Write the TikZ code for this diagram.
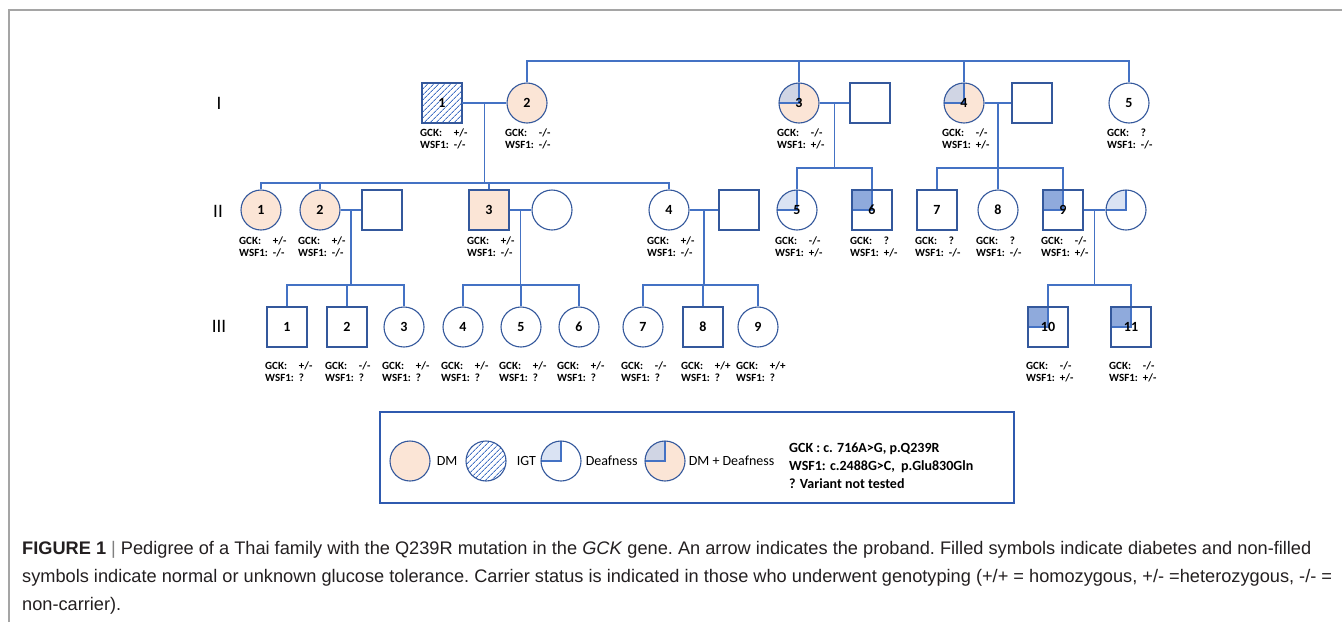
\documentclass[tikz,border=0pt]{standalone}
\usepackage{fontspec}
\setmainfont{Carlito}
\newfontfamily\capfont{Liberation Sans}
\usetikzlibrary{positioning, calc, patterns.meta}
\definecolor{linkblue}{RGB}{68,114,196}
\definecolor{edgeblue}{RGB}{52,88,156}
\definecolor{peach}{RGB}{251,229,214}
\definecolor{deafblue}{RGB}{218,227,243}
\definecolor{mixgray}{RGB}{208,213,228}
\definecolor{quadblue}{RGB}{143,170,220}
\definecolor{framegray}{RGB}{165,165,165}
\definecolor{boxblue}{RGB}{47,90,175}
\definecolor{captext}{RGB}{35,31,32}

\newcommand{\geno}[2]{\begin{tabular}{@{}l@{\hspace{5pt}}l@{}}GCK: & #1\\WSF1: & #2\end{tabular}}

\begin{document}
\begin{tikzpicture}[
      x=1pt, y=-1pt,
      male/.style={rectangle, draw=edgeblue, line width=1.1pt, fill=white,
                   minimum size=40pt, inner sep=0pt,
                   font=\fontsize{14}{15}\selectfont\bfseries},
      female/.style={male, circle},
      dm/.style={fill=peach},
      igt/.style={pattern={Lines[angle=45, distance=4pt, line width=0.9pt]},
                  pattern color=linkblue},
      quad/.style={path picture={
          \fill[#1] (path picture bounding box.center) rectangle (path picture bounding box.north west);
          \draw[link] (path picture bounding box.north) -- (path picture bounding box.center)
                      -- (path picture bounding box.west);}},
      deaf/.style={quad=deafblue},
      dmdeaf/.style={fill=peach, quad=mixgray},
      sqdeaf/.style={quad=quadblue},
      link/.style={draw=linkblue, line width=1.3pt},
      geno/.style={inner sep=0pt, font=\fontsize{11}{12}\selectfont\bfseries},
      gen/.style={font=\fontsize{19}{20}\selectfont},
      legtext/.style={inner sep=0pt, font=\fontsize{14}{16}\selectfont}
    ]
    \useasboundingbox (0,0) rectangle (1342,622);
    \draw[framegray, line width=1.5pt] (9,622) -- (9,10) -- (1342,10);

    % generation labels
    \node[gen] (gI) at (219,103) {I};
    \node[gen] (gII) at (218,211) {II};
    \node[gen] (gIII) at (219,326) {III};

    % generation I
    \node[male, igt] (i1) at (442,103) {1};
    \node[female, dm] (i2) at (527,103) {2};
    \node[female, dmdeaf] (i3) at (799,103) {3};
    \node[male] (i3s) at (870,103) {};
    \node[female, dmdeaf] (i4) at (964,103) {4};
    \node[male] (i4s) at (1032,103) {};
    \node[female] (i5) at (1129,103) {5};

    % generation II
    \node[female, dm] (ii1) at (261,210) {1};
    \node[female, dm] (ii2) at (320,210) {2};
    \node[male] (ii2s) at (382,210) {};
    \node[male, dm] (ii3) at (489,210) {3};
    \node[female] (ii3s) at (552,210) {};
    \node[female] (ii4) at (669,210) {4};
    \node[male] (ii4s) at (739,210) {};
    \node[female, deaf] (ii5) at (797,210) {5};
    \node[male, sqdeaf] (ii6) at (872,210) {6};
    \node[male] (ii7) at (937,210) {7};
    \node[female] (ii8) at (998,210) {8};
    \node[male, sqdeaf] (ii9) at (1063,210) {9};
    \node[female, deaf] (ii9s) at (1126,210) {};

    % generation III
    \node[male] (iii1) at (287,327) {1};
    \node[male] (iii2) at (347,327) {2};
    \node[female] (iii3) at (404,327) {3};
    \node[female] (iii4) at (463,327) {4};
    \node[female] (iii5) at (521,327) {5};
    \node[female] (iii6) at (579,327) {6};
    \node[female] (iii7) at (643,327) {7};
    \node[male] (iii8) at (703,327) {8};
    \node[female] (iii9) at (758,327) {9};
    \node[male, sqdeaf] (iii10) at (1048,327) {10};
    \node[male, sqdeaf] (iii11) at (1131,327) {11};

    % sibship levels
    \coordinate (sibI) at (0,61);
    \coordinate (sibII) at (0,183);
    \coordinate (sibR) at (0,168);
    \coordinate (sibIII) at (0,285);

    % connectors
    \draw[link] (i2.north) -- (i2.north |- sibI) -- (i5.north |- sibI) -- (i5.north);
    \foreach \c in {i3, i4}
      \draw[link] (\c.north) -- (\c.north |- sibI);

    \draw[link] (i1.east) -- (i2.west);
    \coordinate (m12) at ($(i1.east)!0.5!(i2.west)$);
    \draw[link] (m12) -- (m12 |- sibII);
    \draw[link] (ii1.north) -- (ii1.north |- sibII) -- (ii4.north |- sibII) -- (ii4.north);
    \foreach \c in {ii2, ii3}
      \draw[link] (\c.north) -- (\c.north |- sibII);

    \draw[link] (i3.east) -- (i3s.west);
    \coordinate (m3) at ($(i3.east)!0.5!(i3s.west)$);
    \draw[link] (m3) -- (m3 |- sibR);
    \draw[link] (ii5.north) -- (ii5.north |- sibR) -- (ii6.north |- sibR) -- (ii6.north);

    \draw[link] (i4.east) -- (i4s.west);
    \coordinate (m4) at ($(i4.east)!0.5!(i4s.west)$);
    \draw[link] (m4) -- (m4 |- sibR);
    \draw[link] (ii7.north) -- (ii7.north |- sibR) -- (ii9.north |- sibR) -- (ii9.north);
    \draw[link] (ii8.north) -- (ii8.north |- sibR);

    \draw[link] (ii2.east) -- (ii2s.west);
    \coordinate (m22) at ($(ii2.east)!0.5!(ii2s.west)$);
    \draw[link] (m22) -- (m22 |- sibIII);
    \draw[link] (iii1.north) -- (iii1.north |- sibIII) -- (iii3.north |- sibIII) -- (iii3.north);
    \draw[link] (iii2.north) -- (iii2.north |- sibIII);

    \draw[link] (ii3.east) -- (ii3s.west);
    \coordinate (m23) at ($(ii3.east)!0.5!(ii3s.west)$);
    \draw[link] (m23) -- (m23 |- sibIII);
    \draw[link] (iii4.north) -- (iii4.north |- sibIII) -- (iii6.north |- sibIII) -- (iii6.north);
    \draw[link] (iii5.north) -- (iii5.north |- sibIII);

    \draw[link] (ii4.east) -- (ii4s.west);
    \coordinate (m24) at ($(ii4.east)!0.5!(ii4s.west)$);
    \draw[link] (m24) -- (m24 |- sibIII);
    \draw[link] (iii7.north) -- (iii7.north |- sibIII) -- (iii9.north |- sibIII) -- (iii9.north);
    \draw[link] (iii8.north) -- (iii8.north |- sibIII);

    \draw[link] (ii9.east) -- (ii9s.west);
    \coordinate (m29) at ($(ii9.east)!0.5!(ii9s.west)$);
    \draw[link] (m29) -- (m29 |- sibIII);
    \draw[link] (iii10.north) -- (iii10.north |- sibIII) -- (iii11.north |- sibIII) -- (iii11.north);

    % genotypes
    \node[geno, below right=4pt and -22pt of i1.south] {\geno{+/-}{-/-}};
    \node[geno, below right=4pt and -22pt of i2.south] {\geno{-/-}{-/-}};
    \node[geno, below right=4pt and -22pt of i3.south] {\geno{-/-}{+/-}};
    \node[geno, below right=4pt and -22pt of i4.south] {\geno{-/-}{+/-}};
    \node[geno, below right=4pt and -22pt of i5.south] {\geno{?}{-/-}};
    \node[geno, below right=5pt and -22pt of ii1.south] {\geno{+/-}{-/-}};
    \node[geno, below right=5pt and -22pt of ii2.south] {\geno{+/-}{-/-}};
    \node[geno, below right=5pt and -22pt of ii3.south] {\geno{+/-}{-/-}};
    \node[geno, below right=5pt and -22pt of ii4.south] {\geno{+/-}{-/-}};
    \node[geno, below right=5pt and -22pt of ii5.south] {\geno{-/-}{+/-}};
    \node[geno, below right=5pt and -22pt of ii6.south] {\geno{?}{+/-}};
    \node[geno, below right=5pt and -22pt of ii7.south] {\geno{?}{-/-}};
    \node[geno, below right=5pt and -22pt of ii8.south] {\geno{?}{-/-}};
    \node[geno, below right=5pt and -22pt of ii9.south] {\geno{-/-}{+/-}};
    \node[geno, below right=13pt and -22pt of iii1.south] {\geno{+/-}{?}};
    \node[geno, below right=13pt and -22pt of iii2.south] {\geno{-/-}{?}};
    \node[geno, below right=13pt and -22pt of iii3.south] {\geno{+/-}{?}};
    \node[geno, below right=13pt and -22pt of iii4.south] {\geno{+/-}{?}};
    \node[geno, below right=13pt and -22pt of iii5.south] {\geno{+/-}{?}};
    \node[geno, below right=13pt and -22pt of iii6.south] {\geno{+/-}{?}};
    \node[geno, below right=13pt and -22pt of iii7.south] {\geno{-/-}{?}};
    \node[geno, below right=13pt and -22pt of iii8.south] {\geno{+/+}{?}};
    \node[geno, below right=13pt and -22pt of iii9.south] {\geno{+/+}{?}};
    \node[geno, below right=13pt and -22pt of iii10.south] {\geno{-/-}{+/-}};
    \node[geno, below right=13pt and -22pt of iii11.south] {\geno{-/-}{+/-}};

    % legend
    \draw[boxblue, line width=2.5pt] (380,412) rectangle (1014,503);
    \node[female, dm] (lgdm) at (410,461) {};
    \node[legtext, right=6pt of lgdm] (lgdmtxt) {DM};
    \node[female, igt] (lgigt) at (486,461) {};
    \node[legtext, right=10pt of lgigt] (lgigttxt) {IGT};
    \node[female, deaf] (lgdeaf) at (561,461) {};
    \node[legtext, right=4pt of lgdeaf] (lgdeaftxt) {Deafness};
    \node[female, dmdeaf] (lgboth) at (665,461) {};
    \node[legtext, right=3pt of lgboth] (lgbothtxt) {DM + Deafness};
    \node[legtext, font=\fontsize{14}{18}\selectfont\bfseries, anchor=west, align=left] (lgkey) at (789,466)
      {GCK : c. 716A>G, p.Q239R\\WSF1: c.2488G>C,\ \ p.Glu830Gln\\? Variant not tested};

    % caption
    \node[anchor=north west, inner sep=0pt, align=left, text=captext,
          font=\capfont\fontsize{18.2}{28}\selectfont\frenchspacing] (caption) at (22,541)
      {\textbf{FIGURE 1} {\color{gray}|} Pedigree of a Thai family with the Q239R mutation in the \textit{GCK} gene. An arrow indicates the proband. Filled symbols indicate diabetes and non-filled\\
       symbols indicate normal or unknown glucose tolerance. Carrier status is indicated in those who underwent genotyping (+/+ = homozygous, +/- =heterozygous, -/- =\\
       non-carrier).};
  \end{tikzpicture}
\end{document}
